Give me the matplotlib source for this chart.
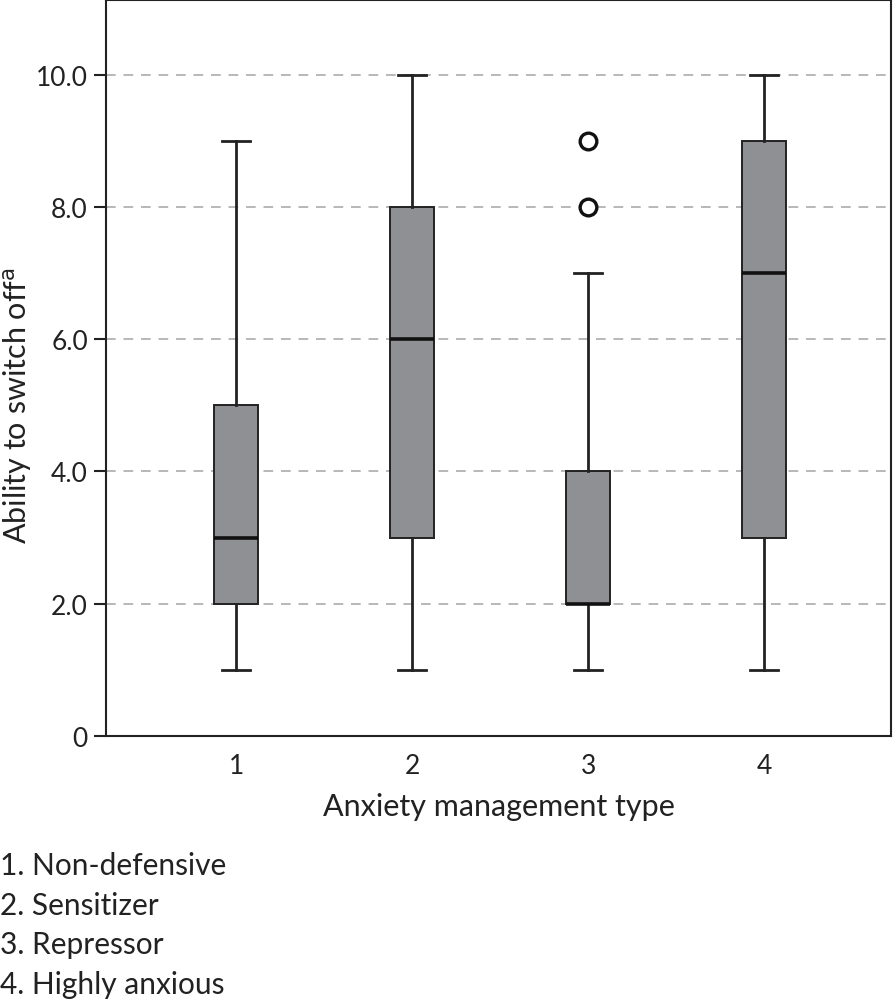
import matplotlib
matplotlib.use("Agg")
import matplotlib.pyplot as plt

plt.rcParams['font.family'] = ['Lato', 'DejaVu Sans']

groups = [1, 2, 3, 4]
whislo = [1, 1, 1, 1]
q1 = [2, 3, 2, 3]
med = [3, 6, 2, 7]
q3 = [5, 8, 4, 9]
whishi = [9, 10, 7, 10]
fliers = [[], [], [8, 9], []]
type_names = ["Non-defensive", "Sensitizer", "Repressor", "Highly anxious"]
yticks = [0, 2, 4, 6, 8, 10]
ytick_labels = ["0", "2.0", "4.0", "6.0", "8.0", "10.0"]

stats = []
for i in range(len(groups)):
    stats.append(dict(whislo=whislo[i], q1=q1[i], med=med[i], q3=q3[i],
                      whishi=whishi[i], fliers=fliers[i]))

fig = plt.figure(figsize=(8.93, 10.03), dpi=100)
ax = fig.add_axes([0.1187, 0.2652, 0.8791, 0.7338])

ax.bxp(stats, positions=groups, widths=0.25, patch_artist=True,
       capwidths=0.16,
       boxprops=dict(facecolor='#8f9094', edgecolor='#222222', linewidth=1.4),
       medianprops=dict(color='#111111', linewidth=2.6),
       whiskerprops=dict(color='#222222', linewidth=2.0),
       capprops=dict(color='#222222', linewidth=2.0),
       flierprops=dict(marker='o', markersize=12, markerfacecolor='white',
                       markeredgecolor='#111111', markeredgewidth=2.4))

ax.set_xlim(0.26, 4.72)
ax.set_ylim(0, 11.13)
ax.set_yticks(yticks)
ax.set_yticklabels(ytick_labels)
ax.set_xticks(groups)
ax.set_xticklabels([str(g) for g in groups])
for y in yticks[1:]:
    ax.axhline(y, color='#b8b8b8', linestyle=(0, (5, 4)), linewidth=1.4, zorder=0)

ax.tick_params(axis='y', length=9, width=1.5, labelsize=19, pad=4, colors='#222222')
ax.tick_params(axis='x', length=0, labelsize=19, pad=12, colors='#222222')
for s in ax.spines.values():
    s.set_linewidth(1.5)
    s.set_color('#222222')

ax.set_xlabel("Anxiety management type", fontsize=22, labelpad=10, color='#222222')
ax.set_ylabel("Ability to switch off$^{\\mathrm{a}}$", fontsize=22, color='#222222')
ax.yaxis.set_label_coords(-0.092, 0.45)

leg_y = [0.137, 0.097, 0.058, 0.018]
for i, name in enumerate(type_names):
    fig.text(0.0, leg_y[i], f"{groups[i]}. {name}", fontsize=21.5, color='#222222',
             va='center', ha='left')

fig.savefig("out.png", dpi=100)
